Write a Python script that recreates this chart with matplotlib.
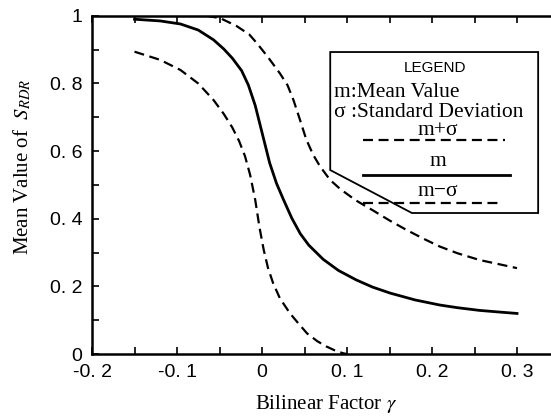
import numpy as np
import matplotlib
matplotlib.use("Agg")
import matplotlib.pyplot as plt
from matplotlib.patches import Polygon
from matplotlib.lines import Line2D

plt.rcParams['mathtext.fontset'] = 'stix'

# curves
gamma_upper = [-0.065, -0.049, -0.03, -0.015, -0.006, 0.007, 0.021, 0.03, 0.037, 0.045,
               0.052, 0.060, 0.068, 0.080, 0.092, 0.11, 0.131, 0.150, 0.170, 0.19,
               0.209, 0.23, 0.256, 0.28, 0.30]
s_upper = [1.0, 0.993, 0.97, 0.945, 0.919, 0.878, 0.83, 0.795, 0.751, 0.69,
           0.635, 0.59, 0.556, 0.515, 0.488, 0.455, 0.424, 0.395, 0.367, 0.341,
           0.318, 0.298, 0.278, 0.265, 0.254]

gamma_mean = [-0.15, -0.12, -0.096, -0.075, -0.057, -0.045, -0.035, -0.024, -0.016,
              -0.008, 0.0, 0.009, 0.017, 0.025, 0.035, 0.045, 0.055, 0.072, 0.09,
              0.111, 0.13, 0.151, 0.18, 0.209, 0.23, 0.256, 0.28, 0.30]
s_mean = [0.99, 0.985, 0.976, 0.958, 0.929, 0.902, 0.875, 0.838, 0.795,
          0.735, 0.655, 0.565, 0.505, 0.458, 0.402, 0.356, 0.322, 0.280, 0.247,
          0.219, 0.198, 0.180, 0.160, 0.145, 0.137, 0.129, 0.124, 0.12]

gamma_lower = [-0.15, -0.12, -0.096, -0.075, -0.057, -0.045, -0.035, -0.027, -0.02,
               -0.014, -0.008, -0.003, 0.002, 0.007, 0.013, 0.021, 0.033, 0.043,
               0.053, 0.065, 0.076, 0.088, 0.096, 0.10]
s_lower = [0.894, 0.87, 0.84, 0.80, 0.751, 0.71, 0.67, 0.63, 0.585,
           0.53, 0.456, 0.375, 0.308, 0.255, 0.21, 0.165, 0.12, 0.09,
           0.061, 0.038, 0.022, 0.008, 0.002, 0.0]

xticks = [-0.2, -0.15, -0.1, -0.05, 0.0, 0.05, 0.1, 0.15, 0.2, 0.25, 0.3]
xtick_labels = ["-0. 2", "", "-0. 1", "", "0", "", "0. 1", "", "0. 2", "", "0. 3"]
yticks = [0, 0.1, 0.2, 0.3, 0.4, 0.5, 0.6, 0.7, 0.8, 0.9, 1.0]
ytick_labels = ["0", "", "0. 2", "", "0. 4", "", "0. 6", "", "0. 8", "", "1"]

tick_font = ['Liberation Sans', 'DejaVu Sans']
serif = ['Liberation Serif', 'DejaVu Serif']

fig = plt.figure(figsize=(5.51, 4.17), dpi=100)
ax = fig.add_axes([0.167, 0.151, 0.833, 0.811])

dash = (0, (4.5, 2.5))
ax.plot(gamma_upper, s_upper, color='black', lw=1.6, linestyle=dash)
ax.plot(gamma_mean, s_mean, color='black', lw=2.0)
ax.plot(gamma_lower, s_lower, color='black', lw=1.6, linestyle=dash)

ax.set_xlim(-0.2, 0.34)
ax.set_ylim(0, 1)
ax.set_xticks(xticks)
ax.set_xticklabels(xtick_labels, family=tick_font, fontsize=14)
ax.set_yticks(yticks)
ax.set_yticklabels(ytick_labels, family=tick_font, fontsize=14)
ax.tick_params(direction='in', length=5, width=1.2, top=True, right=False, pad=7)

for s in ['left', 'bottom', 'top']:
    ax.spines[s].set_linewidth(1.8)
ax.spines['right'].set_visible(False)

fig.text(326 / 551, 1 - 404 / 417, r"Bilinear Factor $\gamma$", family=serif,
         fontsize=15, ha='center', va='center')
fig.text(22 / 551, 1 - 167 / 417, r"Mean Value of  $S_{RDR}$", family=serif,
         fontsize=15, ha='center', va='center', rotation=90)

# legend box with cut lower-left corner
box = Polygon([(0.519, 0.893), (0.972, 0.893), (0.972, 0.417), (0.697, 0.417),
               (0.519, 0.544)], closed=True, transform=ax.transAxes,
              facecolor='white', edgecolor='black', lw=1.3, zorder=3)
ax.add_patch(box)
ax.text(0.747, 0.846, "LEGEND", transform=ax.transAxes, ha='center', va='center',
        family=tick_font, fontsize=11, zorder=4)
ax.text(0.527, 0.773, "m:Mean Value", transform=ax.transAxes, ha='left', va='center',
        family=serif, fontsize=15.5, zorder=4)
ax.text(0.527, 0.714, "σ :Standard Deviation", transform=ax.transAxes, ha='left',
        va='center', family=serif, fontsize=15.5, zorder=4)
ax.text(0.754, 0.660, "m+σ", transform=ax.transAxes, ha='center', va='center',
        family=serif, fontsize=15.5, zorder=4)
ax.text(0.754, 0.570, "m", transform=ax.transAxes, ha='center', va='center',
        family=serif, fontsize=15.5, zorder=4)
ax.text(0.754, 0.482, "m−σ", transform=ax.transAxes, ha='center', va='center',
        family=serif, fontsize=15.5, zorder=4)
ax.add_line(Line2D([0.59, 0.90], [0.633, 0.633], transform=ax.transAxes,
                   color='black', lw=1.6, linestyle=dash, zorder=4))
ax.add_line(Line2D([0.59, 0.91], [0.530, 0.530], transform=ax.transAxes,
                   color='black', lw=2.0, zorder=4))
ax.add_line(Line2D([0.59, 0.89], [0.447, 0.447], transform=ax.transAxes,
                   color='black', lw=1.6, linestyle=dash, zorder=4))

fig.savefig("out.png", dpi=100)
